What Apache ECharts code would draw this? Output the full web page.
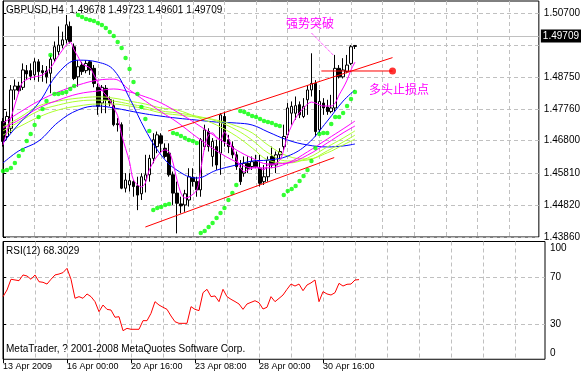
<!DOCTYPE html>
<html><head><meta charset="utf-8">
<script src="https://cdn.jsdelivr.net/npm/echarts@6.0.0/dist/echarts.min.js"></script>
<style>html,body{margin:0;padding:0;background:#fff}#c{width:583px;height:376px}</style>
</head><body><div id="c"></div>
<script>
// ---- candles (H4 bars, index 0 = 13 Apr 2009 08:00) ----
const opens = [1.4739,1.4693,1.4718,1.4835,1.4847,1.4843,1.4894,1.4894,1.4881,1.4921,
1.4894,1.4893,1.4886,1.4929,1.4952,1.4972,1.4988,1.5029,1.4967,1.4875,
1.4911,1.4894,1.4921,1.4901,1.4843,1.4795,1.4840,1.4805,1.4787,1.4732,
1.4729,1.4535,1.4545,1.4555,1.4542,1.4518,1.4560,1.4576,1.4626,1.4662,
1.4695,1.4657,1.4642,1.4576,1.4520,1.4487,1.4484,1.4499,1.4568,1.4555,
1.4530,1.4662,1.4708,1.4632,1.4662,1.4642,1.4754,1.4683,1.4662,1.4637,
1.4596,1.4581,1.4611,1.4601,1.4616,1.4596,1.4555,1.4570,1.4632,1.4606,
1.4637,1.4662,1.4698,1.4764,1.4764,1.4790,1.4754,1.4805,1.4835,1.4855,
1.4713,1.4795,1.4783,1.4769,1.4780,1.4901,1.4875,1.4891,1.4916,1.49678];
const closes = [1.4678,1.4754,1.4835,1.4847,1.4833,1.4896,1.4884,1.4877,1.4921,1.4891,
1.4888,1.4875,1.4929,1.4967,1.4972,1.4988,1.5034,1.4983,1.4870,1.4906,
1.4891,1.4916,1.4896,1.4855,1.4785,1.4843,1.4805,1.4795,1.4729,1.4729,
1.4535,1.4560,1.4558,1.4540,1.4514,1.4570,1.4576,1.4626,1.4683,1.4698,
1.4672,1.4632,1.4576,1.4520,1.4489,1.4481,1.4518,1.4570,1.4555,1.4530,
1.4683,1.4713,1.4662,1.4678,1.4606,1.4759,1.4678,1.4662,1.4637,1.4601,
1.4555,1.4611,1.4596,1.4616,1.4601,1.4550,1.4570,1.4621,1.4606,1.4637,
1.4647,1.4693,1.4780,1.4785,1.4787,1.4759,1.4785,1.4835,1.4855,1.4708,
1.4800,1.4780,1.4769,1.4780,1.4901,1.4875,1.4896,1.4911,1.4967,1.49709];
const lows = [1.4662,1.4683,1.4703,1.4805,1.4823,1.4835,1.4865,1.4865,1.4865,1.4860,
1.4860,1.4855,1.4825,1.4921,1.4942,1.4962,1.4977,1.4977,1.4865,1.4845,
1.4881,1.4886,1.4881,1.4843,1.4759,1.4764,1.4764,1.4785,1.4724,1.4708,
1.4532,1.4522,1.4525,1.4509,1.4468,1.4499,1.4522,1.4555,1.4611,1.4642,
1.4642,1.4626,1.4570,1.4484,1.4397,1.4458,1.4463,1.4479,1.4540,1.4509,
1.4509,1.4652,1.4647,1.4601,1.4591,1.4576,1.4662,1.4642,1.4626,1.4591,
1.4545,1.4570,1.4581,1.4591,1.4596,1.4540,1.4545,1.4555,1.4596,1.4581,
1.4626,1.4652,1.4688,1.4729,1.4744,1.4749,1.4749,1.4759,1.4815,1.4693,
1.4703,1.4759,1.4759,1.4764,1.4769,1.4870,1.4870,1.4886,1.4911,1.49601];
const highs = [1.4749,1.4769,1.4850,1.4867,1.4860,1.4916,1.4911,1.4916,1.4932,1.4929,
1.4911,1.4908,1.4942,1.4983,1.5029,1.5013,1.5064,1.5044,1.4977,1.4926,
1.4921,1.4926,1.4926,1.4911,1.4855,1.4850,1.4850,1.4815,1.4805,1.4749,
1.4736,1.4581,1.4581,1.4560,1.4570,1.4581,1.4637,1.4637,1.4703,1.4708,
1.4703,1.4672,1.4672,1.4586,1.4555,1.4509,1.4530,1.4596,1.4596,1.4570,
1.4688,1.4729,1.4718,1.4688,1.4683,1.4764,1.4769,1.4698,1.4678,1.4647,
1.4621,1.4632,1.4632,1.4632,1.4637,1.4637,1.4606,1.4632,1.4662,1.4647,
1.4657,1.4729,1.4795,1.4800,1.4815,1.4800,1.4810,1.4850,1.4947,1.4865,
1.4835,1.4810,1.4805,1.4820,1.4942,1.4911,1.4932,1.4942,1.4972,1.49723];

// ---- Parabolic SAR ----
const sar = [1.45875,1.45906,1.45967,1.46120,1.46333,1.46517,1.46792,1.47005,1.47280,1.47524,
1.47769,1.48013,1.49417,1.48227,1.48227,1.48257,1.48288,1.48380,1.48471,1.50639,
1.50578,1.50517,1.50486,1.50456,1.50395,1.50334,1.50242,1.50120,1.49998,1.49814,
1.49631,1.49326,1.48990,1.48593,1.48227,1.47830,1.47463,1.47097,1.44684,1.44745,
1.44776,1.44837,1.44868,1.47036,1.47005,1.46944,1.46883,1.46822,1.46792,1.46730,
1.43982,1.44043,1.44165,1.44287,1.44440,1.44593,1.44745,1.44990,1.45203,1.45448,
1.47708,1.47677,1.47616,1.47555,1.47524,1.47463,1.47402,1.47372,1.47341,1.47280,
1.47250,1.45142,1.45264,1.45326,1.45417,1.45570,1.45723,1.45906,1.46181,1.46578,
1.47005,1.47036,1.47036,1.47311,1.47524,1.47524,1.47646,1.47860,1.48074,1.48288];

// ---- fast moving average (read at these bars) ----
const fastIdx = [0,2,4,5,7,10,12,13,14,16,17,18,19,20,22,23,25,27,28,29,30,32,33,35,36,37,39,41,42,43,44,45,46,47,49,50,51,52,53,54,55,56,57,58,59,60,61,62,64,66,67,68,70,71,72,74,76,78,79,81,83,84,85,86,87,88,89];
const fastMA = [1.4667,1.4749,1.4829,1.4859,1.4872,1.4881,1.4902,1.4920,1.4939,1.4972,1.4981,1.4957,1.4936,1.4915,1.4902,1.4881,1.4835,1.4804,1.4780,1.4756,1.4698,1.4615,1.4560,1.4539,1.4551,1.4591,1.4633,1.4652,1.4646,1.4612,1.4560,1.4520,1.4505,1.4508,1.4529,1.4591,1.4661,1.4698,1.4704,1.4688,1.4682,1.4707,1.4688,1.4658,1.4627,1.4597,1.4585,1.4591,1.4600,1.4591,1.4606,1.4606,1.4621,1.4652,1.4698,1.4749,1.4780,1.4798,1.4795,1.4786,1.4786,1.4795,1.4820,1.4841,1.4865,1.4896,1.4920];

// ---- slower moving averages (read at these bars) ----
const maIdx = [0,4,9,14,19,24,28,32,36,40,44,49,54,59,63,67,72,77,82,86,89];
const blue1 = [1.4673,1.4731,1.4795,1.4887,1.4926,1.4920,1.4896,1.4810,1.4713,1.4636,1.4590,1.4566,1.4590,1.4606,1.4618,1.4621,1.4633,1.4670,1.4740,1.4801,1.4835];
const blue2 = [1.4612,1.4649,1.4679,1.4737,1.4774,1.4786,1.4780,1.4771,1.4762,1.4755,1.4749,1.4743,1.4737,1.4734,1.4728,1.4707,1.4682,1.4667,1.4661,1.4664,1.4670];
const mag1 = [1.4734,1.4765,1.4801,1.4829,1.4850,1.4865,1.4868,1.4835,1.4801,1.4768,1.4737,1.4691,1.4649,1.4615,1.4597,1.4597,1.4612,1.4646,1.4685,1.4716,1.4740];
const mag2 = [1.4719,1.4743,1.4780,1.4804,1.4823,1.4832,1.4838,1.4829,1.4814,1.4795,1.4768,1.4731,1.4691,1.4652,1.4627,1.4609,1.4612,1.4636,1.4673,1.4704,1.4725];
const gy1 = [1.4722,1.4749,1.4786,1.4801,1.4810,1.4814,1.4810,1.4801,1.4792,1.4780,1.4774,1.4752,1.4728,1.4694,1.4658,1.4621,1.4612,1.4627,1.4661,1.4688,1.4710];
const gy2 = [1.4710,1.4737,1.4771,1.4789,1.4801,1.4804,1.4801,1.4792,1.4783,1.4771,1.4765,1.4755,1.4740,1.4713,1.4682,1.4643,1.4618,1.4621,1.4649,1.4676,1.4697];
const gy3 = [1.4697,1.4722,1.4752,1.4774,1.4786,1.4792,1.4792,1.4786,1.4777,1.4765,1.4759,1.4752,1.4743,1.4725,1.4704,1.4667,1.4633,1.4624,1.4643,1.4667,1.4685];

// ---- drawn objects: [barIndex, price] ----
const upperChannel = [[41.75, 1.47097], [98.5, 1.49338]];
const lowerChannel = [[36, 1.44165], [83.75, 1.46285]];
const stopLine = [[80.5, 1.48929], [98.5, 1.48929]];
const stopPoint = [[98.5, 1.48929]];
const breakoutPointer = [[78, 1.50089], [83.5, 1.49417]];
const bidPrice = 1.49709;

// ---- RSI(12) ----
const rsi = [53.7,59.4,68.6,68.0,67.4,72.3,71.4,68.6,72.3,66.5,
66.0,64.5,68.6,72.3,73.1,74.3,78.0,68.6,52.3,53.7,
52.3,56.0,53.7,49.4,40.8,46.5,42.8,42.2,36.0,36.5,
24.5,26.5,25.7,25.7,25.7,33.1,33.1,39.4,49.4,46.5,
44.6,42.8,37.1,32.2,30.8,30.8,30.8,45.1,42.8,41.7,
57.1,60.0,53.7,54.3,49.4,60.0,53.7,51.4,49.5,47.4,
42.8,47.4,48.8,50.2,48.5,43.1,44.6,53.7,49.4,52.2,
55.1,60.0,64.5,62.8,64.5,58.8,63.7,65.5,68.0,49.4,
58.0,56.0,55.1,57.1,65.1,62.8,64.3,64.5,68.0,68.3];

// ---- axis ticks & labels ----
const priceGrid = [1.4386,1.4482,1.4581,1.4680,1.4776,1.4875,1.4973,1.5070];
const priceLabels = [1.4386,1.4482,1.4581,1.4680,1.4776,1.4875,1.5070];
const timeGrid = [8,16,24,32,40,48,56,64,72,80,88,96,104,112,120,128];
const timeLabelIdx = [0,16,32,48,64,80];
const timeLabels = ['13 Apr 2009','16 Apr 00:00','20 Apr 16:00','23 Apr 08:00','28 Apr 00:00','30 Apr 16:00'];
const rsiGrid = [70,30];
const rsiLabelText = {95:'100',70:'70',30:'30',5:'0'};

const FONT = 'Liberation Sans';
const GRIDLINE = {show:true, lineStyle:{color:'#c0c0c0', width:1, type:[4,3]}};
const pairs = (idx, vals) => idx.map((x,k)=>[x, vals[k]]);
const candleData = opens.map((o,i)=>[i, o, closes[i], lows[i], highs[i]]);

function maSeries(name, idx, vals, color, smooth){
  return {name, type:'line', xAxisIndex:0, yAxisIndex:0, data:pairs(idx, vals), showSymbol:false, symbol:'none',
    smooth: smooth, lineStyle:{color, width:1}, z:3, silent:true};
}
function trend(name, data, color, type){
  return {name, type:'line', xAxisIndex:0, yAxisIndex:0, data, symbol:'none', clip:false,
    lineStyle:{color, width:1, type: type||'solid'}, z:5, silent:true};
}

const chart = echarts.init(document.getElementById('c'), null, {renderer:'canvas'});
chart.setOption({
  animation:false,
  backgroundColor:'#fff',
  textStyle:{fontFamily:FONT},
  grid:[
    {left:3, top:1, width:542, height:236, show:true, borderColor:'#000', borderWidth:1, backgroundColor:'#fff'},
    {left:3, top:241.5, width:542, height:117.75, show:true, borderColor:'#000', borderWidth:1, backgroundColor:'#fff'}
  ],
  xAxis:[
    {gridIndex:0, type:'value', min:0, max:135.5, axisLine:{show:false},
     axisTick:{show:false, customValues:timeGrid}, axisLabel:{show:false}, splitLine:GRIDLINE},
    {gridIndex:1, type:'value', min:0, max:135.5, axisLine:{show:false},
     axisTick:{show:false, customValues:timeGrid}, axisLabel:{show:false}, splitLine:GRIDLINE},
    {gridIndex:1, type:'value', min:0, max:135.5, position:'bottom', axisLine:{show:false},
     axisTick:{show:true, customValues:timeLabelIdx, length:4, inside:false, lineStyle:{color:'#000'}},
     axisLabel:{customValues:timeLabelIdx, formatter:v=>timeLabels[timeLabelIdx.indexOf(v)], align:'left',
       margin:3, fontSize:9, color:'#000', fontFamily:FONT},
     splitLine:{show:false}}
  ],
  yAxis:[
    {gridIndex:0, type:'value', position:'right', min:1.4386, max:1.510665, scale:true,
     axisLine:{show:true, lineStyle:{color:'#000'}},
     axisTick:{show:true, customValues:priceGrid, length:3, lineStyle:{color:'#000'}},
     axisLabel:{customValues:priceLabels, formatter:v=>v.toFixed(5), fontSize:10, color:'#000', margin:5, fontFamily:FONT},
     splitLine:GRIDLINE},
    {gridIndex:1, type:'value', position:'right', min:0, max:101,
     axisLine:{show:true, lineStyle:{color:'#000'}},
     axisTick:{show:true, customValues:rsiGrid, length:3, lineStyle:{color:'#000'}},
     axisLabel:{customValues:[95,70,30,5], formatter:v=>rsiLabelText[v], fontSize:10, color:'#000', margin:5, fontFamily:FONT},
     splitLine:GRIDLINE}
  ],
  graphic:[
    {type:'text', left:6, top:5, z:100, style:{text:'GBPUSD,H4  1.49678 1.49723 1.49601 1.49709', font:'10px "Liberation Sans"', fill:'#000'}},
    {type:'text', left:6, top:246, z:100, style:{text:'RSI(12) 68.3029', font:'10px "Liberation Sans"', fill:'#000'}},
    {type:'text', left:6, top:344, z:100, style:{text:'MetaTrader, ? 2001-2008 MetaQuotes Software Corp.', font:'10px "Liberation Sans"', fill:'#000'}},
    {type:'text', left:286, top:17, z:100, style:{text:'强势突破', font:'12px "Noto Sans CJK SC"', fill:'#ff00ff'}},
    {type:'text', left:369, top:83, z:100, style:{text:'多头止损点', font:'12px "Noto Sans CJK SC"', fill:'#ff00ff'}}
  ],
  series:[
    {name:'GBPUSD', type:'candlestick', xAxisIndex:0, yAxisIndex:0, data:candleData,
     encode:{x:0, y:[1,2,3,4]}, barWidth:3, clip:false, z:2, silent:true,
     itemStyle:{color:'#fff', color0:'#000', borderColor:'#000', borderColor0:'#000', borderWidth:1},
     markLine:{silent:true, symbol:'none', z:1,
       lineStyle:{color:'#c0c0c0', type:'solid', width:1},
       label:{show:true, position:'end', distance:2, formatter:bidPrice.toFixed(5), color:'#fff', backgroundColor:'#000',
         padding:[2,2,1,2], fontSize:10, fontFamily:FONT},
       data:[{yAxis:bidPrice}]}},
    maSeries('MA slow blue', maIdx, blue2, '#0000ff', 0.4),
    maSeries('MA gy3', maIdx, gy3, '#adff2f', 0.4),
    maSeries('MA gy2', maIdx, gy2, '#adff2f', 0.4),
    maSeries('MA gy1', maIdx, gy1, '#adff2f', 0.4),
    maSeries('MA mag2', maIdx, mag2, '#ff00ff', 0.4),
    maSeries('MA mag1', maIdx, mag1, '#ff00ff', 0.4),
    maSeries('MA blue', maIdx, blue1, '#0000ff', 0.4),
    maSeries('MA fast', fastIdx, fastMA, '#ff00ff', 0.3),
    {name:'SAR', type:'scatter', xAxisIndex:0, yAxisIndex:0, data:sar.map((v,i)=>[i,v]),
     symbol:'circle', symbolSize:4.5, itemStyle:{color:'#00ff00'}, z:4, silent:true},
    trend('upper channel', upperChannel, '#ff0000'),
    trend('lower channel', lowerChannel, '#ff0000'),
    trend('stop', stopLine, '#ff0000'),
    trend('pointer', breakoutPointer, '#ff00ff', [1,1]),
    {name:'stop point', type:'scatter', xAxisIndex:0, yAxisIndex:0, data:stopPoint, symbol:'circle', symbolSize:7,
     itemStyle:{color:'#ff0000'}, z:6, silent:true, clip:false},
    {name:'RSI(12)', type:'line', xAxisIndex:1, yAxisIndex:1, data:rsi.map((v,i)=>[i,v]), symbol:'none',
     lineStyle:{color:'#ff0000', width:1}, silent:true}
  ]
});
</script>
</body></html>
